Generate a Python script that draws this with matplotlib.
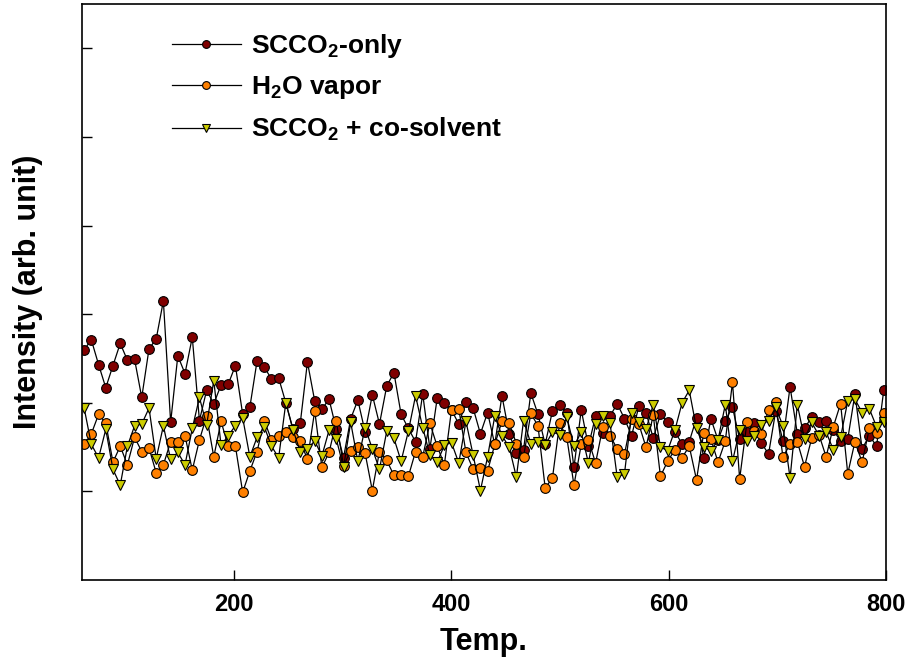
import matplotlib
matplotlib.use("Agg")
import matplotlib.pyplot as plt

plt.rcParams["font.family"] = ["Liberation Sans", "DejaVu Sans"]
plt.rcParams["font.weight"] = "bold"
plt.rcParams["mathtext.fontset"] = "custom"
plt.rcParams["mathtext.rm"] = "Liberation Sans:bold"
plt.rcParams["mathtext.bf"] = "Liberation Sans:bold"

temps = [
    62.0, 68.6, 75.3, 81.9, 88.5, 95.2, 101.8, 108.4, 115.0, 121.7,
    128.3, 134.9, 141.6, 148.2, 154.8, 161.5, 168.1, 174.7, 181.3, 188.0,
    194.6, 201.2, 207.9, 214.5, 221.1, 227.8, 234.4, 241.0, 247.6, 254.3,
    260.9, 267.5, 274.2, 280.8, 287.4, 294.1, 300.7, 307.3, 313.9, 320.6,
    327.2, 333.8, 340.5, 347.1, 353.7, 360.4, 367.0, 373.6, 380.2, 386.9,
    393.5, 400.1, 406.8, 413.4, 420.0, 426.7, 433.3, 439.9, 446.5, 453.2,
    459.8, 466.4, 473.1, 479.7, 486.3, 493.0, 499.6, 506.2, 512.8, 519.5,
    526.1, 532.7, 539.4, 546.0, 552.6, 559.3, 565.9, 572.5, 579.1, 585.8,
    592.4, 599.0, 605.7, 612.3, 618.9, 625.6, 632.2, 638.8, 645.4, 652.1,
    658.7, 665.3, 672.0, 678.6, 685.2, 691.9, 698.5, 705.1, 711.7, 718.4,
    725.0, 731.6, 738.3, 744.9, 751.5, 758.2, 764.8, 771.4, 778.0, 784.7,
    791.3, 797.9,
]

scco2_only = [
    2.60, 2.71, 2.43, 2.17, 2.42, 2.67, 2.48, 2.49, 2.06, 2.61,
    2.72, 3.15, 1.78, 2.53, 2.33, 2.74, 1.80, 2.14, 1.99, 2.20,
    2.21, 2.42, 1.87, 1.95, 2.47, 2.40, 2.27, 2.28, 2.00, 1.70,
    1.77, 2.46, 2.02, 1.93, 2.04, 1.70, 1.38, 1.82, 2.03, 1.67,
    2.09, 1.76, 2.19, 2.34, 1.87, 1.71, 1.56, 2.10, 1.48, 2.05,
    2.00, 1.92, 1.76, 2.01, 1.94, 1.65, 1.89, 1.53, 2.08, 1.65,
    1.43, 1.47, 2.11, 1.87, 1.53, 1.91, 1.97, 1.89, 1.27, 1.92,
    1.51, 1.85, 1.66, 1.85, 1.99, 1.82, 1.63, 1.96, 1.89, 1.60,
    1.87, 1.78, 1.67, 1.54, 1.56, 1.83, 1.38, 1.82, 1.58, 1.80,
    1.95, 1.59, 1.67, 1.77, 1.55, 1.42, 1.91, 1.57, 2.18, 1.65,
    1.71, 1.84, 1.78, 1.79, 1.69, 1.57, 1.59, 2.10, 1.48, 1.63,
    1.51, 2.14,
]

h2o_vapor = [
    1.53, 1.65, 1.87, 1.77, 1.33, 1.51, 1.30, 1.61, 1.45, 1.49,
    1.21, 1.30, 1.56, 1.56, 1.63, 1.24, 1.58, 1.85, 1.39, 1.79,
    1.51, 1.51, 0.99, 1.23, 1.45, 1.80, 1.58, 1.62, 1.67, 1.61,
    1.57, 1.36, 1.91, 1.27, 1.44, 1.79, 1.29, 1.46, 1.50, 1.43,
    1.01, 1.45, 1.35, 1.18, 1.19, 1.17, 1.45, 1.39, 1.77, 1.51,
    1.30, 1.92, 1.93, 1.44, 1.25, 1.26, 1.23, 1.53, 1.79, 1.77,
    1.54, 1.39, 1.88, 1.74, 1.04, 1.15, 1.77, 1.61, 1.07, 1.53,
    1.58, 1.32, 1.73, 1.63, 1.48, 1.42, 1.82, 1.76, 1.50, 1.86,
    1.17, 1.34, 1.47, 1.38, 1.51, 1.13, 1.66, 1.59, 1.33, 1.57,
    2.23, 1.14, 1.78, 1.68, 1.65, 1.92, 2.01, 1.39, 1.53, 1.56,
    1.28, 1.60, 1.64, 1.39, 1.73, 1.99, 1.20, 1.56, 1.33, 1.71,
    1.66, 1.88,
]

scco2_cosolvent = [
    1.94, 1.53, 1.38, 1.70, 1.25, 1.07, 1.51, 1.74, 1.76, 1.94,
    1.37, 1.74, 1.36, 1.44, 1.30, 1.71, 2.06, 1.75, 2.25, 1.52,
    1.63, 1.74, 1.83, 1.39, 1.61, 1.73, 1.51, 1.38, 2.00, 1.69,
    1.45, 1.48, 1.57, 1.40, 1.69, 1.59, 1.27, 1.78, 1.34, 1.72,
    1.48, 1.25, 1.68, 1.60, 1.34, 1.68, 2.08, 1.72, 1.41, 1.33,
    1.52, 1.55, 1.32, 1.79, 1.41, 1.01, 1.39, 1.85, 1.63, 1.50,
    1.16, 1.80, 1.54, 1.56, 1.52, 1.67, 1.64, 1.84, 1.51, 1.67,
    1.32, 1.76, 1.85, 1.77, 1.16, 1.20, 1.89, 1.78, 1.70, 1.98,
    1.50, 1.46, 1.69, 2.00, 2.14, 1.71, 1.50, 1.46, 1.58, 1.98,
    1.34, 1.69, 1.57, 1.63, 1.75, 1.80, 1.95, 1.74, 1.15, 1.98,
    1.59, 1.78, 1.63, 1.67, 1.47, 1.61, 2.02, 2.04, 1.89, 1.93,
    1.73, 1.78,
]

labels = [r"SCCO$_2$-only", r"H$_2$O vapor", r"SCCO$_2$ + co-solvent"]

fig = plt.figure(figsize=(9.12, 6.71), dpi=100)
ax = fig.add_axes([0.0899, 0.1356, 0.8816, 0.8584])

ax.plot(temps, scco2_only, color="black", lw=0.9, marker="o", ms=7,
        mfc="#800000", mec="black", mew=0.8, label=labels[0])
ax.plot(temps, h2o_vapor, color="black", lw=0.9, marker="o", ms=7,
        mfc="#FF8000", mec="black", mew=0.8, label=labels[1])
ax.plot(temps, scco2_cosolvent, color="black", lw=0.9, marker="v", ms=7.4,
        mfc="#CCCC00", mec="black", mew=0.8, label=labels[2])

ax.set_xlim(60, 800)
ax.set_ylim(0, 6.5)
ax.set_xticks([200, 400, 600, 800])
ax.set_yticks([1, 2, 3, 4, 5, 6])
ax.set_yticklabels([])
ax.tick_params(direction="in", length=7, width=1, labelsize=17, pad=9,
               top=False, right=False)
for lab in ax.get_xticklabels():
    lab.set_fontweight("bold")
for side in ["top", "right", "left", "bottom"]:
    ax.spines[side].set_linewidth(1.2)

ax.set_xlabel("Temp.", fontsize=22, fontweight="bold", labelpad=8)
ax.set_ylabel("Intensity (arb. unit)", fontsize=22, fontweight="bold", labelpad=19)

leg = ax.legend(loc="upper left", bbox_to_anchor=(0.099, 0.970), borderaxespad=0,
                frameon=False, fontsize=19, handlelength=2.6, markerscale=0.8,
                labelspacing=0.55, handletextpad=0.4)

fig.savefig("out.png", dpi=100)
